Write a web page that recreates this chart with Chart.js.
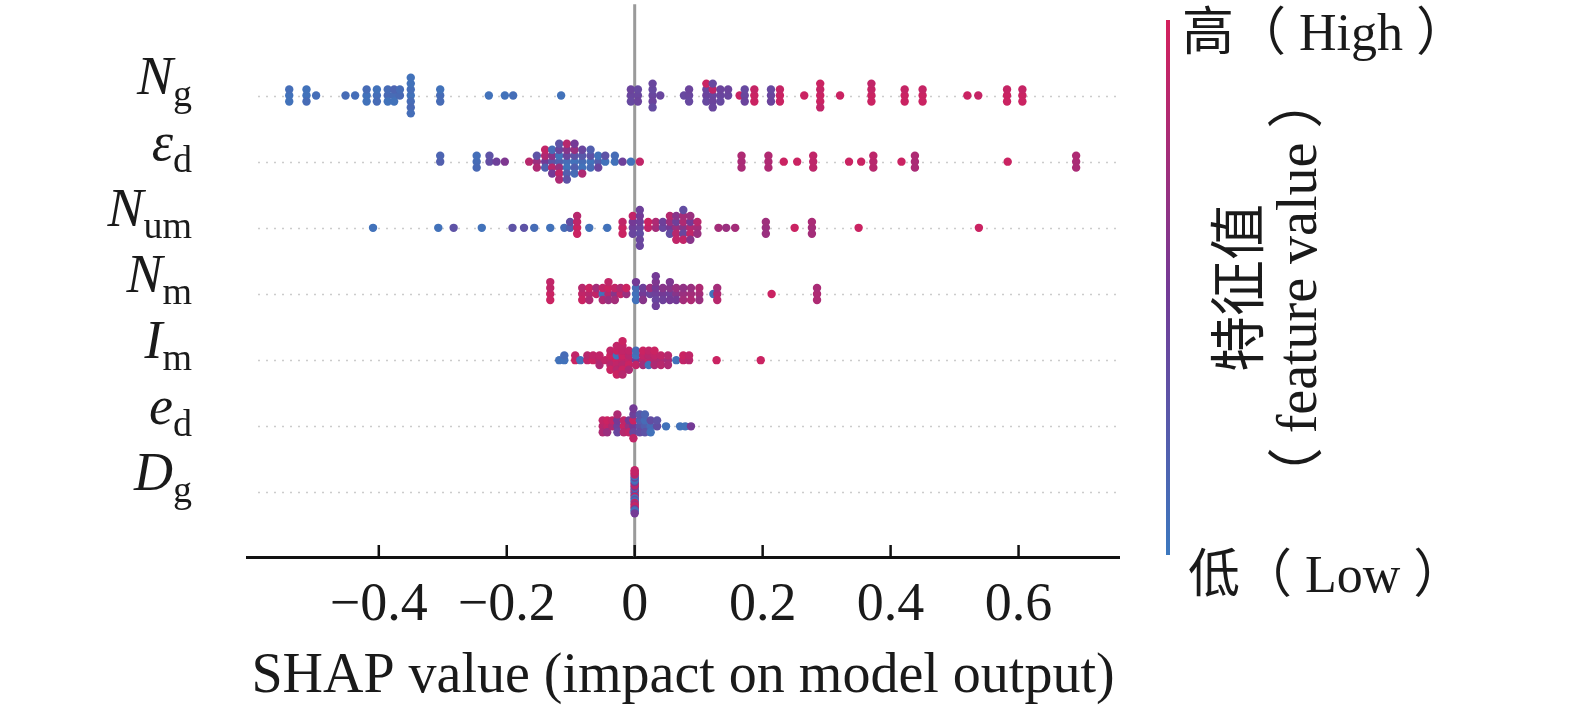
<!DOCTYPE html>
<html>
<head>
<meta charset="utf-8">
<script src="https://cdn.jsdelivr.net/npm/chart.js@4.4.1/dist/chart.umd.min.js"></script>
<style>
html, body { margin: 0; padding: 0; background: #fff; }
#wrap { width: 1575px; height: 713px; position: relative; }
</style>
</head>
<body>
<div id="wrap"><canvas id="shapChart" width="1575" height="713"></canvas></div>
<script>
// ---- data ----------------------------------------------------------------------
var featureMain = ["N", "\u03b5", "N", "N", "I", "e", "D"];
var featureSub  = ["g", "d", "um", "m", "m", "d", "g"];
var xTickValues = [-0.4, -0.2, 0, 0.2, 0.4, 0.6];

// SHAP value per sample, and the normalised feature value (0 = low, 1 = high)
var ngShap = [-0.540,-0.540,-0.540, -0.513,-0.513,-0.513, -0.498, -0.452,-0.437,
  -0.419,-0.419,-0.419, -0.403,-0.403,-0.403, -0.386,-0.386,-0.386, -0.376,-0.376,-0.376,
  -0.367,-0.367, -0.350,-0.350,-0.350,-0.350,-0.350,-0.350,-0.350, -0.304,-0.304,-0.304,
  -0.228, -0.203,-0.190, -0.115,
  -0.006,-0.006,-0.006, 0.005,0.005,0.005, 0.028,0.028,0.028,0.028,0.028, 0.040, 0.077,
  0.085,0.085,0.085, 0.112,0.112,0.112,0.112, 0.122,0.122,0.122,0.122,0.122,
  0.134,0.134,0.134, 0.146,0.146, 0.164, 0.172,0.172,0.172, 0.187,0.187,0.187,
  0.213,0.213,0.213, 0.227,0.227,0.227, 0.265, 0.290,0.290,0.290,0.290,0.290, 0.321,
  0.370,0.370,0.370,0.370, 0.422,0.422,0.422, 0.450,0.450,0.450, 0.520,0.537,
  0.582,0.582,0.582, 0.606,0.606,0.606];
var ngFeat = [0.05,0.08,0.05, 0.05,0.05,0.1, 0.08, 0.1,0.08,
  0.05,0.1,0.05, 0.08,0.05,0.1, 0.12,0.1,0.05, 0.1,0.15,0.05,
  0.12,0.1, 0.05,0.08,0.1,0.05,0.12,0.05,0.08, 0.1,0.05,0.1,
  0.05, 0.05,0.08, 0.05,
  0.4,0.42,0.38, 0.4,0.38,0.42, 0.4,0.38,0.42,0.4,0.36, 0.4, 0.38,
  0.4,0.42,0.38, 0.42,0.4,0.38,0.95, 0.4,0.9,0.42,0.38,0.4,
  0.4,0.42,0.38, 0.4,0.42, 0.95, 0.4,0.38,0.42, 0.95,0.92,0.95,
  0.4,0.38,0.42, 0.95,0.92,0.95, 0.95, 0.95,0.92,0.95,0.95,0.9, 0.95,
  0.95,0.92,0.95,0.9, 0.95,0.92,0.95, 0.95,0.92,0.95, 0.95,0.92,
  0.95,0.92,0.95, 0.95,0.92,0.95];

var edShap = [-0.304,-0.304, -0.247,-0.247,-0.247, -0.227,-0.227,-0.216,-0.203, -0.165,
  -0.153,-0.153,-0.153, -0.140,-0.140,-0.140,-0.140, -0.129,-0.129,-0.129,-0.129,-0.129,
  -0.118,-0.118,-0.118,-0.118,-0.118,-0.118,-0.118, -0.106,-0.106,-0.106,-0.106,-0.106,-0.106,-0.106,
  -0.094,-0.094,-0.094,-0.094,-0.094,-0.094, -0.082,-0.082,-0.082,-0.082,-0.082,
  -0.069,-0.069,-0.069,-0.069, -0.057,-0.057,-0.057, -0.046,-0.046, -0.031,-0.031,
  -0.019, -0.006, 0.008,
  0.167,0.167,0.167, 0.209,0.209,0.209, 0.233, 0.254, 0.279,0.279,0.279, 0.335, 0.354,
  0.373,0.373,0.373, 0.417, 0.438,0.438,0.438, 0.583, 0.690,0.690,0.690];
var edFeat = [0.2,0.15, 0.1,0.08,0.12, 0.35,0.3,0.45,0.55, 0.85,
  0.7,0.3,0.8, 0.5,0.8,0.2,0.9, 0.3,0.6,0.85,0.1,0.5,
  0.2,0.05,0.7,0.4,0.9,0.3,0.8, 0.1,0.4,0.05,0.6,0.2,0.85,0.3,
  0.05,0.3,0.2,0.7,0.1,0.5, 0.1,0.25,0.05,0.4,0.8,
  0.05,0.3,0.1,0.2, 0.2,0.05,0.4, 0.05,0.3, 0.05,0.1,
  0.45, 0.05, 0.9,
  0.78,0.8,0.78, 0.8,0.82,0.8, 0.95, 0.95, 0.88,0.9,0.88, 0.95, 0.95,
  0.85,0.88,0.85, 0.95, 0.78,0.8,0.78, 0.95, 0.78,0.8,0.78];

var numShap = [-0.409, -0.307, -0.283, -0.239, -0.191, -0.173, -0.157, -0.132, -0.110,
  -0.101,-0.101, -0.090,-0.090,-0.090,-0.090, -0.071, -0.043, -0.019,-0.019,-0.019,
  -0.003,-0.003,-0.003,-0.003, 0.008,0.008,0.008,0.008,0.008,0.008,0.008,
  0.021,0.021, 0.033,0.033, 0.044,0.044, 0.055,0.055,0.055,0.055,
  0.065,0.065,0.065,0.065,0.065, 0.076,0.076,0.076,0.076,0.076,0.076,
  0.087,0.087,0.087,0.087,0.087, 0.098,0.098,0.098,
  0.131, 0.143, 0.157, 0.205,0.205,0.205, 0.250, 0.277,0.277,0.277, 0.350, 0.538];
var numFeat = [0.05, 0.05, 0.3, 0.05, 0.3, 0.3, 0.1, 0.05, 0.1,
  0.2,0.35, 0.95,0.9,0.95,0.85, 0.05, 0.05, 0.95,0.9,0.95,
  0.45,0.5,0.4,0.9, 0.4,0.45,0.35,0.5,0.4,0.45,0.4,
  0.9,0.95, 0.75,0.8, 0.4,0.45, 0.5,0.7,0.35,0.85,
  0.7,0.45,0.85,0.6,0.9, 0.6,0.8,0.4,0.75,0.9,0.35,
  0.8,0.5,0.9,0.7,0.6, 0.75,0.85,0.7,
  0.75, 0.7, 0.75, 0.7,0.72,0.7, 0.95, 0.75,0.78,0.75, 0.95, 0.95];

var nmShap = [-0.132,-0.132,-0.132,-0.132, -0.082,-0.082,-0.082, -0.071,-0.071,-0.071,
  -0.060,-0.060, -0.050,-0.050,-0.050, -0.041,-0.041,-0.041,-0.041, -0.031,-0.031,-0.031,
  -0.022,-0.022, -0.013,-0.013, 0.002,0.002,0.002,0.002, 0.013,0.013,0.013, 0.024,0.024,
  0.033,0.033,0.033,0.033,0.033,0.033, 0.044,0.044,0.044, 0.055,0.055,0.055,0.055,
  0.065,0.065,0.065, 0.076,0.076,0.076, 0.088,0.088,0.088, 0.101,0.101,0.101,
  0.123, 0.129,0.129,0.129, 0.214, 0.285,0.285,0.285];
var nmFeat = [0.95,0.9,0.95,0.9, 0.9,0.85,0.95, 0.85,0.95,0.8,
  0.9,0.75, 0.05,0.9,0.8, 0.85,0.95,0.7,0.9, 0.6,0.9,0.75,
  0.9,0.8, 0.7,0.95, 0.05,0.1,0.05,0.5, 0.5,0.45,0.6, 0.4,0.7,
  0.45,0.5,0.4,0.55,0.45,0.5, 0.5,0.6,0.45, 0.45,0.6,0.5,0.55,
  0.6,0.7,0.5, 0.7,0.65,0.75, 0.75,0.7,0.8, 0.75,0.8,0.7,
  0.05, 0.8,0.75,0.85, 0.95, 0.8,0.78,0.8];

var imShap = [-0.118, -0.110,-0.110, -0.093,-0.093, -0.085, -0.074,-0.074, -0.065,-0.065,
  -0.055,-0.055,-0.055, -0.046, -0.038,-0.038,-0.038,-0.038,-0.038,
  -0.028,-0.028,-0.028,-0.028,-0.028,-0.028,-0.028,
  -0.019,-0.019,-0.019,-0.019,-0.019,-0.019,-0.019,-0.019,
  -0.009,-0.009,-0.009,-0.009,-0.009, 0.002,0.002,0.002,0.002,
  0.013,0.013,0.013,0.013, 0.022,0.022,0.022,0.022, 0.031,0.031,0.031,0.031,
  0.041,0.041,0.041, 0.052,0.052,0.052, 0.065, 0.076,0.076, 0.085,0.085, 0.128, 0.197];
var imFeat = [0.05, 0.05,0.1, 0.95,0.9, 0.05, 0.9,0.85, 0.95,0.9,
  0.85,0.9,0.8, 0.9, 0.9,0.95,0.85,0.9,0.95,
  0.95,0.05,0.9,0.95,0.85,0.9,0.95,
  0.9,0.95,0.85,0.9,0.95,0.9,0.85,0.95,
  0.9,0.85,0.95,0.9,0.8, 0.5,0.05,0.9,0.1,
  0.85,0.9,0.75,0.95, 0.9,0.85,0.05,0.9, 0.85,0.9,0.8,0.95,
  0.8,0.9,0.85, 0.75,0.85,0.8, 0.05, 0.9,0.95, 0.85,0.9, 0.95, 0.95];

var eShap = [-0.050,-0.050,-0.050, -0.043,-0.043,-0.043, -0.035,-0.035,
  -0.027,-0.027,-0.027,-0.027, -0.017,-0.017,-0.017, -0.009,-0.009,-0.009,
  -0.002,-0.002,-0.002,-0.002,-0.002,-0.002, 0.008,0.008,0.008,0.008,
  0.016,0.016,0.016,0.016, 0.025,0.025,0.025, 0.035,0.035, 0.049, 0.071, 0.079, 0.088];
var eFeat = [0.85,0.9,0.8, 0.9,0.95,0.7, 0.8,0.9,
  0.45,0.5,0.4,0.8, 0.95,0.9,0.85, 0.7,0.5,0.9,
  0.5,0.95,0.4,0.45,0.9,0.5, 0.3,0.2,0.35,0.25,
  0.2,0.1,0.3,0.15, 0.1,0.35,0.05, 0.35,0.3, 0.05, 0.05, 0.05, 0.5];

var dgShap = [0,0,0,0,0,0,0,0,0,0, 0,0,0,0,0,0,0,0,0,0, 0,0,0,0,0,0,0,0,0,0];
var dgFeat = [0.95,0.5,0.05,0.9,0.4,0.1,0.95,0.6,0.05,0.85, 0.3,0.9,0.05,0.5,0.95,
  0.1,0.7,0.05,0.9,0.4, 0.95,0.05,0.6,0.9,0.1,0.8,0.05,0.95,0.5,0.9];

var rowShap = [ngShap, edShap, numShap, nmShap, imShap, eShap, dgShap];
var rowFeat = [ngFeat, edFeat, numFeat, nmFeat, imFeat, eFeat, dgFeat];

// ---- helpers -------------------------------------------------------------------
var cLow = [60, 120, 190], cMid = [116, 58, 150], cHigh = [212, 32, 92];

function colorFor(v) {
    var a, b, t;
    if (v < 0.5) { a = cLow; b = cMid; t = v / 0.5; }
    else { a = cMid; b = cHigh; t = (v - 0.5) / 0.5; }
    return "rgb(" + [0, 1, 2].map(function (k) { return Math.round(a[k] + (b[k] - a[k]) * t); }).join(",") + ")";
}

// beeswarm offsets the way shap.summary_plot does it (100 bins, alternating layers)
function swarm(shaps, rowY) {
    var n = shaps.length;
    var mn = Math.min.apply(null, shaps), mx = Math.max.apply(null, shaps);
    var quant = shaps.map(function (s) { return Math.round(100 * (s - mn) / (mx - mn + 1e-8)); });
    var inds = shaps.map(function (s, i) { return i; });
    inds.sort(function (a, b) { return quant[a] - quant[b] || a - b; });
    var ys = new Array(n).fill(0), layer = 0, last = -1;
    inds.forEach(function (ind) {
        if (quant[ind] !== last) layer = 0;
        ys[ind] = Math.ceil(layer / 2) * ((layer % 2) * 2 - 1);
        layer++;
        last = quant[ind];
    });
    var m = Math.max.apply(null, ys.map(function (y) { return y + 1; }));
    return shaps.map(function (s, i) { return { x: s, y: rowY + ys[i] * 0.9 * (0.4 / m) }; });
}

var nRows = featureMain.length;
var datasets = rowShap.map(function (sh, i) {
    return {
        data: swarm(sh, nRows - 1 - i),
        pointBackgroundColor: sh.map(function (s, k) { return colorFor(rowFeat[i][k] !== undefined ? rowFeat[i][k] : 0.5); }),
        pointRadius: 4.2,
        pointBorderWidth: 0,
        pointHoverRadius: 4.2
    };
});

var serif = "'Liberation Serif', 'Times New Roman', serif";

var decorPlugin = {
    id: "decor",
    beforeDatasetsDraw: function (chart) {
        var ctx = chart.ctx, xs = chart.scales.x, ys = chart.scales.y, area = chart.chartArea;
        ctx.save();
        // dotted row guides
        ctx.strokeStyle = "#cccccc";
        ctx.lineWidth = 1.5;
        ctx.setLineDash([2, 6]);
        for (var i = 0; i < nRows; i++) {
            var y = Math.round(ys.getPixelForValue(i)) + 0.5;
            ctx.beginPath();
            ctx.moveTo(area.left + 11, y);
            ctx.lineTo(area.right - 3, y);
            ctx.stroke();
        }
        ctx.setLineDash([]);
        // zero line
        var x0 = xs.getPixelForValue(0);
        ctx.strokeStyle = "#9a9a9a";
        ctx.lineWidth = 3;
        ctx.beginPath();
        ctx.moveTo(x0, area.top);
        ctx.lineTo(x0, area.bottom);
        ctx.stroke();
        ctx.restore();
    },
    afterDraw: function (chart) {
        var ctx = chart.ctx, xs = chart.scales.x, ys = chart.scales.y, area = chart.chartArea;
        ctx.save();
        // inward tick marks
        ctx.strokeStyle = "#111";
        ctx.lineWidth = 2.5;
        xs.ticks.forEach(function (t) {
            var x = xs.getPixelForValue(t.value);
            ctx.beginPath();
            ctx.moveTo(x, area.bottom - 12);
            ctx.lineTo(x, area.bottom);
            ctx.stroke();
        });
        // feature names, italic symbol + upright subscript
        ctx.fillStyle = "#1a1a1a";
        ctx.textBaseline = "alphabetic";
        ctx.textAlign = "left";
        var rightEdge = 192;
        for (var i = 0; i < nRows; i++) {
            var y = ys.getPixelForValue(nRows - 1 - i);
            ctx.font = "38px " + serif;
            var sw = ctx.measureText(featureSub[i]).width;
            ctx.font = "italic 54px " + serif;
            var mw = ctx.measureText(featureMain[i]).width;
            ctx.fillText(featureMain[i], rightEdge - sw - mw, y - 2);
            ctx.font = "38px " + serif;
            ctx.fillText(featureSub[i], rightEdge - sw, y + 10);
        }
        // colour bar
        var cbTop = 20, cbBot = 555, cbX = 1166;
        var g = ctx.createLinearGradient(0, cbTop, 0, cbBot);
        g.addColorStop(0, colorFor(1));
        g.addColorStop(0.5, colorFor(0.5));
        g.addColorStop(1, colorFor(0));
        ctx.fillStyle = g;
        ctx.fillRect(cbX, cbTop, 4, cbBot - cbTop);
        ctx.fillStyle = "#1a1a1a";
        ctx.font = "52px " + serif + ", 'Noto Sans CJK SC'";
        ctx.textBaseline = "middle";
        ctx.fillText("\u9ad8\uff08 High \uff09", 1182, 36);
        ctx.fillText("\u4f4e\uff08 Low \uff09", 1188, 578);
        ctx.translate(1243, 288);
        ctx.rotate(-Math.PI / 2);
        ctx.textAlign = "center";
        ctx.font = "56px " + serif + ", 'Noto Sans CJK SC'";
        ctx.fillText("\u7279\u5f81\u503c", 0, 0);
        ctx.fillText("\uff08 feature value \uff09", 0, 58);
        ctx.restore();
    }
};

new Chart(document.getElementById("shapChart").getContext("2d"), {
    type: "scatter",
    data: { datasets: datasets },
    options: {
        responsive: false,
        animation: false,
        events: [],
        layout: { padding: { left: 247, right: 456, top: 0, bottom: 0 } },
        plugins: { legend: { display: false }, tooltip: { enabled: false } },
        scales: {
            x: {
                type: "linear",
                position: "bottom",
                min: -0.606,
                max: 0.757,
                afterBuildTicks: function (s) { s.ticks = xTickValues.map(function (v) { return { value: v }; }); },
                afterFit: function (s) { s.height = 156; },
                grid: { display: false, drawTicks: false },
                border: { display: true, color: "#111", width: 3 },
                ticks: {
                    autoSkip: false,
                    maxRotation: 0,
                    padding: 16,
                    color: "#1a1a1a",
                    font: { family: serif, size: 54 },
                    callback: function (v) {
                        var r = Math.round(v * 10) / 10;
                        if (r === 0) return "0";
                        return (r < 0 ? "\u2212" : "") + Math.abs(r).toFixed(1);
                    }
                },
                title: {
                    display: true,
                    text: "SHAP value (impact on model output)",
                    color: "#1a1a1a",
                    font: { family: serif, size: 56 },
                    padding: { top: 0, bottom: 2 }
                }
            },
            y: { type: "linear", display: false, min: -0.975, max: 7.38 }
        }
    },
    plugins: [decorPlugin]
});
</script>
</body>
</html>
